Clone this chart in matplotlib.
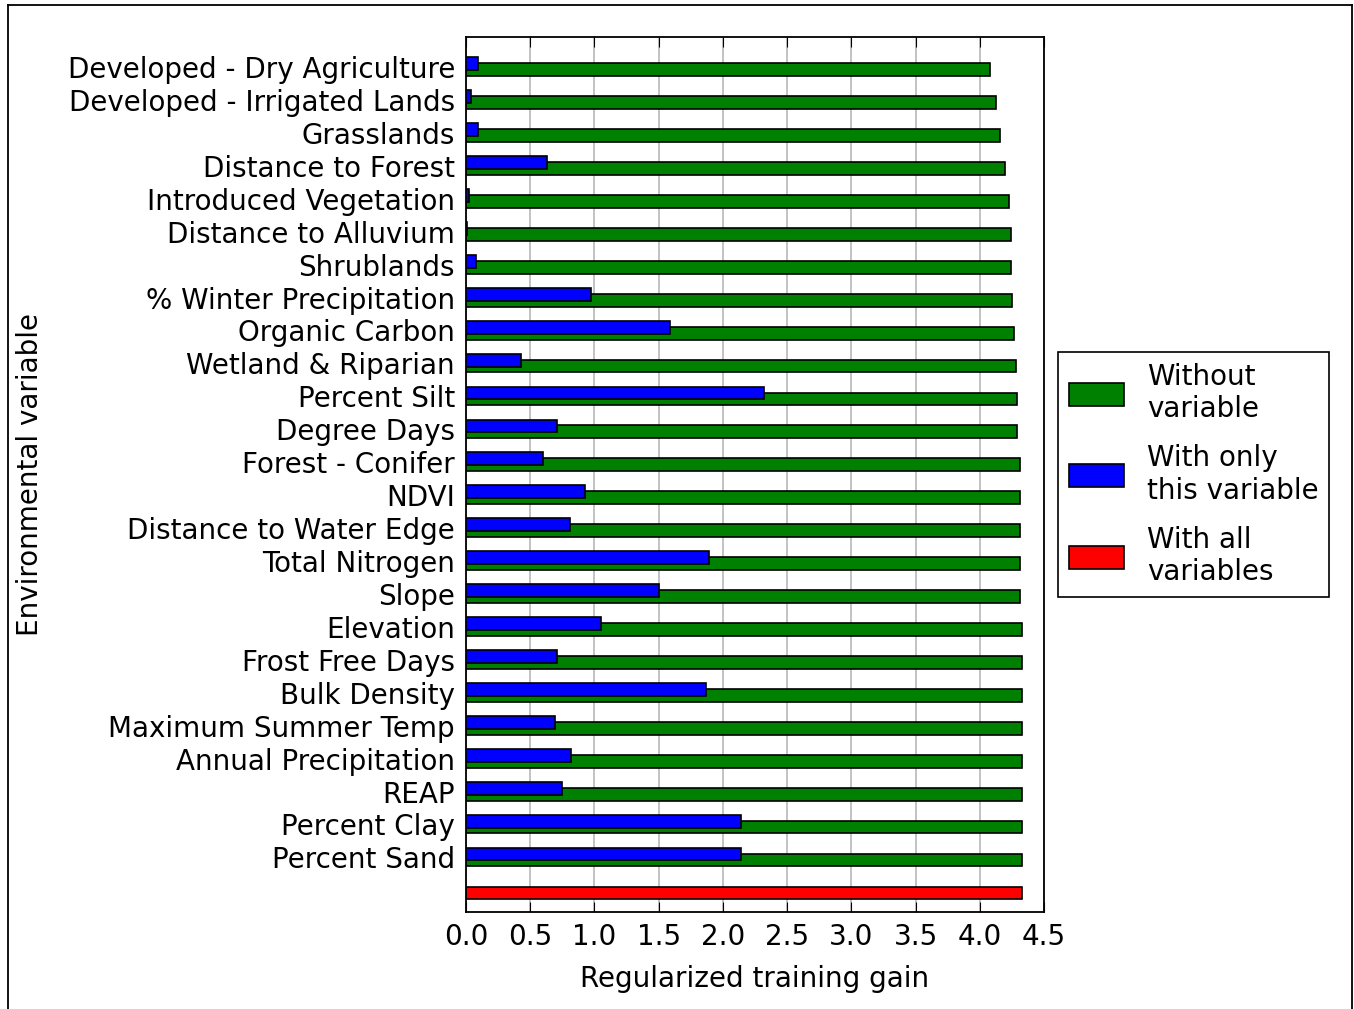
import matplotlib
matplotlib.use("Agg")
import matplotlib.pyplot as plt
import numpy as np
from matplotlib.lines import Line2D

variables = [
    "Developed - Dry Agriculture", "Developed - Irrigated Lands", "Grasslands",
    "Distance to Forest", "Introduced Vegetation", "Distance to Alluvium",
    "Shrublands", "% Winter Precipitation", "Organic Carbon", "Wetland & Riparian",
    "Percent Silt", "Degree Days", "Forest - Conifer", "NDVI",
    "Distance to Water Edge", "Total Nitrogen", "Slope", "Elevation",
    "Frost Free Days", "Bulk Density", "Maximum Summer Temp",
    "Annual Precipitation", "REAP", "Percent Clay", "Percent Sand",
]
without_var = [4.08, 4.13, 4.16, 4.20, 4.23, 4.245, 4.245, 4.25, 4.27, 4.28,
               4.29, 4.29, 4.31, 4.31, 4.31, 4.31, 4.31, 4.33, 4.33, 4.33,
               4.33, 4.33, 4.33, 4.33, 4.33]
only_var = [0.09, 0.037, 0.09, 0.63, 0.02, 0.01, 0.08, 0.97, 1.59, 0.43,
            2.32, 0.71, 0.60, 0.93, 0.81, 1.89, 1.50, 1.05, 0.71, 1.87,
            0.69, 0.82, 0.75, 2.14, 2.14]
all_vars = 4.33
xticks = [0.0, 0.5, 1.0, 1.5, 2.0, 2.5, 3.0, 3.5, 4.0, 4.5]

plt.rcParams['font.family'] = ['DejaVu Sans']

fig = plt.figure(figsize=(13.54, 10.09), dpi=100)
ax = fig.add_axes([0.3442, 0.0961, 0.7710 - 0.3442, 0.9633 - 0.0961])

n = len(variables)
ypos = np.arange(n, 0, -1)  # top variable at n, bottom at 1
h = 0.39
off = 0.18

ax.barh(ypos, without_var, height=h, color='#008000', edgecolor='black',
        linewidth=1.2, zorder=2, label='Without\nvariable')
ax.barh(ypos + off, only_var, height=h, color='#0000ff', edgecolor='black',
        linewidth=1.2, zorder=3, label='With only\nthis variable')
ax.barh([0], [all_vars], height=h, color='#ff0000', edgecolor='black',
        linewidth=1.2, zorder=2, label='With all\nvariables')

ax.set_ylim(-0.58, n + 0.99)
ax.set_xlim(0, 4.5)
ax.set_xticks(xticks)
ax.set_xticklabels([f"{t:.1f}" for t in xticks])
ax.set_yticks(ypos + 0.08)
ax.set_yticklabels(variables)
ax.tick_params(axis='y', length=0, labelsize=20, pad=8)
ax.tick_params(axis='x', direction='in', top=True, length=7, labelsize=20, pad=8)
ax.xaxis.grid(True, color='#b8b8b8', linewidth=1.2, zorder=0)
ax.set_axisbelow(True)
for s in ax.spines.values():
    s.set_linewidth(1.3)

ax.set_xlabel("Regularized training gain", fontsize=20, labelpad=10)
ax.set_ylabel("Environmental variable", fontsize=20, labelpad=17)

leg = ax.legend(loc='center left', bbox_to_anchor=(1.024, 0.5), fontsize=20,
                frameon=True, fancybox=False, edgecolor='black',
                handlelength=2.0, handleheight=0.9, labelspacing=0.76,
                borderpad=0.4, handletextpad=0.8, borderaxespad=0)
leg.get_frame().set_linewidth(1.2)
leg.get_frame().set_alpha(1)

# figure border
W, H = 1354, 1009
fig.add_artist(Line2D([8 / W, 8 / W], [0, 1 - 5 / H], transform=fig.transFigure, color='black', linewidth=1.3))
fig.add_artist(Line2D([8 / W, 1352 / W], [1 - 5 / H, 1 - 5 / H], transform=fig.transFigure, color='black', linewidth=1.3))
fig.add_artist(Line2D([1352 / W, 1352 / W], [0, 1 - 5 / H], transform=fig.transFigure, color='black', linewidth=1.3))

fig.savefig("out.png", dpi=100)
